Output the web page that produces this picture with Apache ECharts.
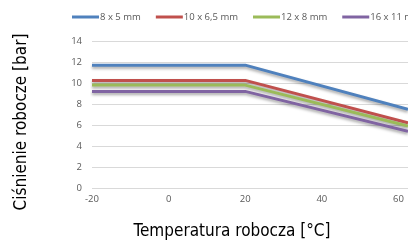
<!DOCTYPE html>
<html>
<head>
<meta charset="utf-8">
<script src="https://cdn.jsdelivr.net/npm/echarts@6/dist/echarts.min.js"></script>
<style>
  html, body { margin: 0; padding: 0; background: #fff; }
  #chart { width: 408px; height: 248px; }
</style>
</head>
<body>
<div id="chart"></div>
<script>
// temperature points (°C) and pressure values (bar)
const temps = [-20, 20, 62.5]
const seriesNames = ['8 x 5 mm', '10 x 6,5 mm', '12 x 8 mm', '16 x 11 mm']
const pressure8x5 = [11.7, 11.7, 7.5]
const pressure10x65 = [10.25, 10.25, 6.2]
const pressure12x8 = [9.8, 9.8, 5.9]
const pressure16x11 = [9.2, 9.2, 5.4]
const colors = ['#4F81BD', '#C0504D', '#9BBB59', '#8064A2']

const chart = echarts.init(document.getElementById('chart'))

const allValues = [pressure8x5, pressure10x65, pressure12x8, pressure16x11]
const labelFont = "'Open Sans', sans-serif"

chart.setOption({
  animation: false,
  legend: {
    left: 72,
    top: 12,
    padding: 0,
    width: 800,
    icon: 'rect',
    itemWidth: 27,
    itemHeight: 3,
    itemGap: 15,
    textStyle: { color: '#595959', fontSize: 9.5, fontFamily: labelFont, padding: [0, 0, 0, -4] },
    data: seriesNames,
  },
  grid: { left: 92, right: 0, top: 41, bottom: 60 },
  xAxis: {
    type: 'value',
    min: -20,
    max: 62.5,
    interval: 20,
    axisLine: { show: false },
    axisTick: { show: false },
    splitLine: { show: false },
    axisLabel: { color: '#595959', fontSize: 9.5, fontFamily: labelFont, margin: 6 },
  },
  yAxis: {
    type: 'value',
    min: 0,
    max: 14,
    interval: 2,
    axisLine: { show: false },
    axisTick: { show: false },
    axisLabel: { color: '#595959', fontSize: 9.5, fontFamily: labelFont, margin: 10 },
    splitLine: { lineStyle: { color: '#D9D9D9', width: 1 } },
  },
  graphic: [
    {
      type: 'text',
      x: 22,
      y: 122,
      rotation: Math.PI / 2,
      style: {
        text: 'Ciśnienie robocze [bar]',
        fill: '#000',
        font: "condensed 17px 'DejaVu Sans'",
        align: 'center',
        verticalAlign: 'middle',
      },
    },
    {
      type: 'text',
      x: 232,
      y: 232,
      style: {
        text: 'Temperatura robocza [°C]',
        fill: '#000',
        font: "condensed 17px 'DejaVu Sans'",
        align: 'center',
        verticalAlign: 'middle',
      },
    },
  ],
  series: seriesNames.map((name, i) => ({
    name,
    type: 'line',
    showSymbol: false,
    color: colors[i],
    lineStyle: {
      width: 3,
      color: colors[i],
      shadowColor: 'rgba(0, 0, 0, 0.35)',
      shadowBlur: 3,
      shadowOffsetY: 2,
    },
    data: temps.map((t, j) => [t, allValues[i][j]]),
  })),
})
</script>
</body>
</html>
